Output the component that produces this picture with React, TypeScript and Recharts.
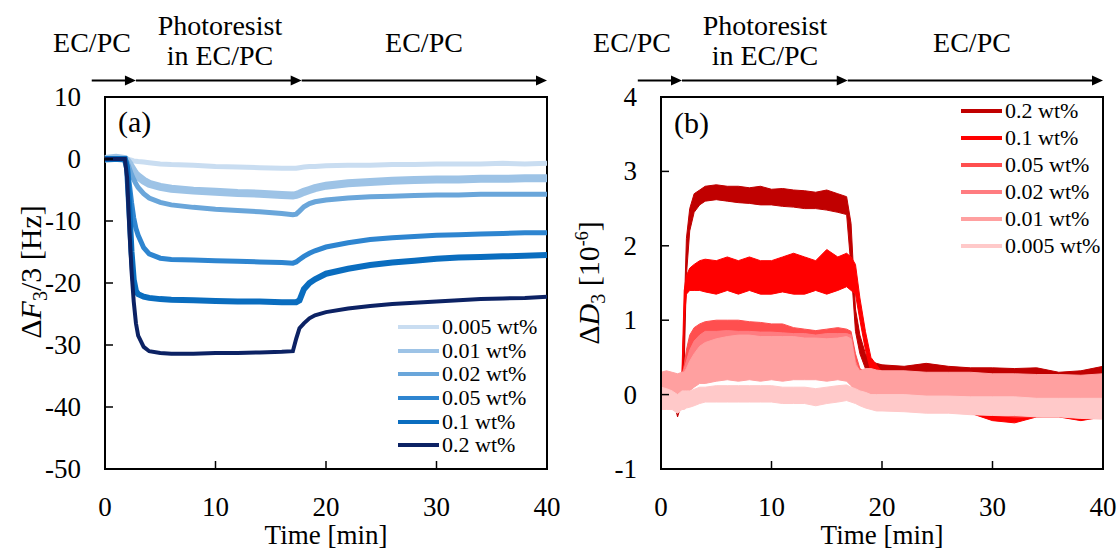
import React from "react";
import {
  ComposedChart,
  Line,
  Area,
  XAxis,
  YAxis,
  ReferenceLine,
  ReferenceArea,
  Legend,
} from "recharts";

const FONT = '"Liberation Serif", "Times New Roman", serif';

// ---------- (a) frequency shift, Hz ----------
const timeF = [0, 1, 1.8, 2.0, 2.2, 2.4, 2.6, 2.8, 3.0, 3.5, 4, 5, 6, 8, 10, 12, 14, 16, 17, 17.3, 17.6, 18, 18.5, 19, 20, 22, 24, 26, 28, 30, 32, 34, 36, 38, 40];
const f0005 = [0, 0.1, 0, 0, -0.1, -0.2, -0.3, -0.35, -0.4, -0.5, -0.6, -0.8, -0.9, -1.0, -1.2, -1.3, -1.4, -1.5, -1.5, -1.5, -1.4, -1.3, -1.2, -1.2, -1.1, -1.0, -1.0, -0.9, -0.9, -0.8, -0.8, -0.8, -0.7, -0.8, -0.7];
const f001 = [0, 0.2, 0, -0.3, -0.8, -1.4, -2.0, -2.5, -2.8, -3.5, -4.0, -4.5, -4.8, -5.1, -5.3, -5.5, -5.6, -5.8, -5.9, -5.8, -5.6, -5.3, -5.0, -4.7, -4.3, -3.9, -3.7, -3.5, -3.4, -3.3, -3.3, -3.2, -3.2, -3.1, -3.1];
const f002 = [0, 0, 0, -0.5, -1.5, -2.5, -3.3, -4.0, -4.6, -5.6, -6.3, -7.0, -7.4, -7.8, -8.1, -8.3, -8.5, -8.8, -9.0, -8.9, -8.4, -7.7, -7.2, -6.9, -6.6, -6.3, -6.1, -6.0, -5.9, -5.8, -5.8, -5.7, -5.7, -5.7, -5.7];
const f005 = [0, 0, 0, -1.0, -4, -7, -9.5, -11.2, -12.3, -14.3, -15.3, -16.0, -16.2, -16.3, -16.4, -16.5, -16.6, -16.7, -16.8, -16.6, -16.2, -15.7, -15.2, -14.8, -14.2, -13.5, -13.0, -12.7, -12.5, -12.3, -12.2, -12.1, -12.0, -11.9, -11.9];
const f01 = [0, 0, 0, -1.5, -8, -15, -19.5, -21.3, -21.8, -22.2, -22.4, -22.6, -22.7, -22.8, -22.9, -23.0, -23.0, -23.1, -23.1, -23.1, -22.8, -21.0, -20.0, -19.4, -18.5, -17.7, -17.1, -16.7, -16.4, -16.1, -15.9, -15.8, -15.7, -15.6, -15.5];
const f02 = [0, 0, 0, -3, -11, -18, -23, -26.5, -28.5, -30.3, -31.0, -31.3, -31.4, -31.4, -31.3, -31.3, -31.2, -31.1, -31.0, -29.0, -27.3, -26.5, -25.7, -25.2, -24.7, -24.1, -23.7, -23.4, -23.2, -23.0, -22.8, -22.6, -22.5, -22.4, -22.2];

const seriesF = [
  { key: "f0005", name: "0.005 wt%", values: f0005, color: "#c9ddf1", width: 5 },
  { key: "f001", name: "0.01 wt%", values: f001, color: "#9dc3e6", width: 8 },
  { key: "f002", name: "0.02 wt%", values: f002, color: "#6aa6da", width: 5 },
  { key: "f005", name: "0.05 wt%", values: f005, color: "#2e85d0", width: 5 },
  { key: "f01", name: "0.1 wt%", values: f01, color: "#0a6dbf", width: 6 },
  { key: "f02", name: "0.2 wt%", values: f02, color: "#0c2264", width: 4 },
];

// ---------- (b) dissipation shift, 1e-6 (noise envelopes low / high) ----------
const timeD = [0, 0.5, 1, 1.5, 1.9, 2.1, 2.3, 2.6, 3, 3.5, 4, 5, 6, 7, 8, 9, 10, 11, 12, 13, 14, 15, 16, 16.8, 17.2, 17.6, 18, 18.5, 19, 19.5, 20, 22, 24, 26, 28, 30, 32, 34, 36, 38, 40];
const d02Lo = [0.0, 0.05, 0.0, -0.3, -0.1, 0.4, 1.6, 2.2, 2.45, 2.55, 2.6, 2.62, 2.6, 2.58, 2.57, 2.55, 2.55, 2.53, 2.52, 2.5, 2.5, 2.48, 2.45, 2.42, 1.7, 0.85, 0.55, 0.35, 0.25, 0.22, 0.2, 0.2, 0.2, 0.18, 0.18, 0.15, 0.15, 0.15, 0.12, 0.12, 0.15];
const d02Hi = [0.2, 0.25, 0.2, 0.15, 0.2, 1.1, 2.1, 2.5, 2.7, 2.75, 2.8, 2.82, 2.8, 2.8, 2.78, 2.8, 2.76, 2.77, 2.75, 2.74, 2.72, 2.75, 2.7, 2.66, 2.3, 1.15, 0.8, 0.55, 0.45, 0.42, 0.4, 0.38, 0.42, 0.38, 0.36, 0.36, 0.35, 0.36, 0.3, 0.32, 0.38];
const d01Lo = [-0.15, -0.1, -0.15, -0.2, 0.0, 1.0, 1.35, 1.4, 1.4, 1.4, 1.38, 1.35, 1.4, 1.35, 1.4, 1.35, 1.35, 1.38, 1.35, 1.35, 1.4, 1.35, 1.4, 1.45, 1.4, 1.35, 1.0, 0.6, 0.3, 0.15, 0.0, -0.1, -0.15, -0.2, -0.25, -0.35, -0.38, -0.3, -0.3, -0.35, -0.3];
const d01Hi = [0.15, 0.2, 0.15, 0.1, 0.3, 1.4, 1.6, 1.7, 1.75, 1.8, 1.82, 1.8, 1.85, 1.8, 1.85, 1.8, 1.8, 1.85, 1.9, 1.85, 1.8, 1.95, 1.85, 1.9, 1.85, 1.75, 1.3, 0.85, 0.5, 0.4, 0.3, 0.3, 0.25, 0.25, 0.2, 0.15, 0.15, 0.15, 0.1, 0.1, 0.15];
const d005Lo = [-0.15, -0.1, -0.1, -0.15, -0.1, 0.1, 0.3, 0.5, 0.6, 0.65, 0.7, 0.7, 0.72, 0.7, 0.7, 0.7, 0.68, 0.65, 0.65, 0.62, 0.62, 0.6, 0.6, 0.6, 0.55, 0.3, 0.05, -0.1, -0.15, -0.2, -0.2, -0.2, -0.22, -0.22, -0.25, -0.28, -0.3, -0.3, -0.28, -0.3, -0.3];
const d005Hi = [0.25, 0.25, 0.25, 0.2, 0.25, 0.4, 0.6, 0.8, 0.9, 0.95, 0.98, 1.0, 1.0, 1.0, 0.98, 0.97, 0.95, 0.95, 0.9, 0.88, 0.86, 0.88, 0.9, 0.88, 0.85, 0.55, 0.35, 0.3, 0.3, 0.28, 0.28, 0.28, 0.25, 0.25, 0.25, 0.22, 0.2, 0.2, 0.2, 0.18, 0.2];
const d002Lo = [-0.15, -0.15, -0.12, -0.15, -0.15, 0.0, 0.15, 0.3, 0.4, 0.45, 0.45, 0.45, 0.47, 0.45, 0.45, 0.45, 0.45, 0.43, 0.42, 0.42, 0.42, 0.42, 0.42, 0.42, 0.4, 0.1, -0.1, -0.15, -0.18, -0.2, -0.2, -0.2, -0.2, -0.22, -0.22, -0.25, -0.25, -0.25, -0.25, -0.25, -0.25];
const d002Hi = [0.28, 0.28, 0.28, 0.25, 0.28, 0.35, 0.45, 0.6, 0.72, 0.8, 0.85, 0.85, 0.86, 0.85, 0.85, 0.84, 0.84, 0.83, 0.82, 0.82, 0.8, 0.82, 0.82, 0.82, 0.8, 0.45, 0.3, 0.28, 0.28, 0.28, 0.28, 0.27, 0.26, 0.25, 0.25, 0.24, 0.24, 0.22, 0.22, 0.22, 0.22];
const d001Lo = [-0.12, -0.1, -0.1, -0.12, -0.1, -0.05, 0.0, 0.05, 0.1, 0.15, 0.15, 0.18, 0.2, 0.18, 0.2, 0.18, 0.2, 0.18, 0.2, 0.2, 0.2, 0.18, 0.2, 0.18, 0.12, 0.05, -0.05, -0.1, -0.12, -0.15, -0.15, -0.15, -0.18, -0.18, -0.2, -0.2, -0.22, -0.22, -0.22, -0.22, -0.22];
const d001Hi = [0.3, 0.32, 0.3, 0.28, 0.3, 0.3, 0.35, 0.45, 0.55, 0.65, 0.7, 0.75, 0.78, 0.8, 0.8, 0.78, 0.78, 0.78, 0.78, 0.76, 0.76, 0.75, 0.76, 0.78, 0.75, 0.4, 0.32, 0.35, 0.35, 0.33, 0.32, 0.32, 0.3, 0.3, 0.3, 0.28, 0.28, 0.27, 0.27, 0.26, 0.28];
const d0005Lo = [-0.2, -0.2, -0.2, -0.25, -0.2, -0.2, -0.18, -0.17, -0.15, -0.12, -0.1, -0.1, -0.1, -0.1, -0.1, -0.1, -0.1, -0.12, -0.12, -0.12, -0.15, -0.12, -0.1, -0.08, -0.1, -0.12, -0.15, -0.18, -0.2, -0.22, -0.22, -0.23, -0.25, -0.25, -0.27, -0.28, -0.28, -0.3, -0.3, -0.32, -0.33];
const d0005Hi = [0.1, 0.08, 0.05, 0.0, 0.05, 0.05, 0.05, 0.05, 0.07, 0.1, 0.1, 0.12, 0.12, 0.12, 0.12, 0.12, 0.12, 0.1, 0.1, 0.1, 0.08, 0.1, 0.12, 0.13, 0.1, 0.08, 0.05, 0.03, 0.0, 0.0, 0.0, 0.0, -0.02, -0.02, -0.03, -0.03, -0.03, -0.05, -0.05, -0.05, -0.05];

const seriesD = [
  { key: "d02", name: "0.2 wt%", lo: d02Lo, hi: d02Hi, color: "#c00000" },
  { key: "d01", name: "0.1 wt%", lo: d01Lo, hi: d01Hi, color: "#ff0000" },
  { key: "d005", name: "0.05 wt%", lo: d005Lo, hi: d005Hi, color: "#ff4f4f" },
  { key: "d002", name: "0.02 wt%", lo: d002Lo, hi: d002Hi, color: "#ff7c80" },
  { key: "d001", name: "0.01 wt%", lo: d001Lo, hi: d001Hi, color: "#ffa0a0" },
  { key: "d0005", name: "0.005 wt%", lo: d0005Lo, hi: d0005Hi, color: "#ffc9c9" },
];

const timeTicks = [0, 10, 20, 30, 40];
const fTicks = [-50, -40, -30, -20, -10, 0, 10];
const dTicks = [-1, 0, 1, 2, 3, 4];

// step arrows above each panel: [from, to] in minutes
const stepsF = [[-1.2, 2.8], [2.8, 17.8], [17.8, 40]];
const stepsD = [[-2.1, 1.9], [1.9, 16.9], [16.9, 40]];

const dataF = timeF.map((t, i) => {
  const row: any = { t };
  seriesF.forEach((s) => (row[s.key] = s.values[i]));
  return row;
});

const dataD = timeD.map((t, i) => {
  const row: any = { t };
  seriesD.forEach((s) => (row[s.key] = [s.lo[i], s.hi[i]]));
  return row;
});

const Y_GAP = 24;
const X_GAP = 10;

function YTick(props: any) {
  const { x, y, payload } = props;
  const axisX = x + Y_GAP;
  return (
    <g>
      <line x1={axisX} x2={axisX + 8} y1={y} y2={y} stroke="#000" strokeWidth={1.5} />
      <text x={x} y={y + 9} textAnchor="end" fontFamily={FONT} fontSize={27} fill="#000">
        {payload.value}
      </text>
    </g>
  );
}

function XTick(props: any) {
  const { x, y, payload } = props;
  const axisY = y - X_GAP;
  const inner = payload.value !== 0 && payload.value !== 40;
  return (
    <g>
      {inner && <line x1={x} x2={x} y1={axisY} y2={axisY - 8} stroke="#000" strokeWidth={1.5} />}
      <text x={x} y={axisY + 47} textAnchor="middle" fontFamily={FONT} fontSize={27} fill="#000">
        {payload.value}
      </text>
    </g>
  );
}

function arrowShape(props: any) {
  const { x1, y1, x2, y2 } = props;
  const head = 11;
  return (
    <g>
      <line x1={x1} y1={y1} x2={x2 - head + 1} y2={y2} stroke="#000" strokeWidth={2} />
      <polygon points={`${x2},${y2} ${x2 - head},${y2 - 5} ${x2 - head},${y2 + 5}`} fill="#000" />
    </g>
  );
}

function legendBox(items: { name: string; color: string }[], rowH: number) {
  return () => (
    <div style={{ fontFamily: FONT, fontSize: 22, color: "#000" }}>
      {items.map((it) => (
        <div key={it.name} style={{ height: rowH, display: "flex", alignItems: "center", whiteSpace: "nowrap" }}>
          <span style={{ display: "inline-block", width: 41, height: 4, background: it.color, marginRight: 3 }} />
          {it.name}
        </div>
      ))}
    </div>
  );
}

export default function App() {
  return (
    <div style={{ position: "absolute", left: 0, top: 0, width: 1118, height: 551, background: "#fff", overflow: "hidden" }}>
      <div style={{ position: "absolute", left: 0, top: 0 }}>
        <ComposedChart width={560} height={551} data={dataF} margin={{ top: 97, right: 13, bottom: 42, left: 55 }}>
          <XAxis dataKey="t" type="number" domain={[0, 40]} ticks={timeTicks} axisLine={false} tickLine={false}
            tickSize={0} tickMargin={X_GAP} height={40} tick={<XTick />} interval={0} />
          <YAxis type="number" domain={[-50, 10]} ticks={fTicks} axisLine={false} tickLine={false}
            tickSize={0} tickMargin={Y_GAP} width={50} tick={<YTick />} interval={0} />
          {seriesF.map((s) => (
            <Line key={s.key} dataKey={s.key} name={s.name} stroke={s.color} strokeWidth={s.width}
              dot={false} type="linear" isAnimationActive={false} />
          ))}
          <ReferenceArea x1={0} x2={40} y1={-50} y2={10} fill="none" stroke="#000" strokeWidth={2} />
          {stepsF.map((s, i) => (
            <ReferenceLine key={i} segment={[{ x: s[0], y: 12.66 }, { x: s[1], y: 12.66 }]}
              ifOverflow="visible" shape={arrowShape} />
          ))}
          <Legend layout="vertical" align="center" verticalAlign="middle"
            wrapperStyle={{ left: 398, top: 315, width: "auto", height: "auto" }}
            content={legendBox(seriesF, 23.7)} />
        </ComposedChart>
      </div>
      <div style={{ position: "absolute", left: 560, top: 0 }}>
        <ComposedChart width={558} height={551} data={dataD} margin={{ top: 97, right: 15, bottom: 42, left: 51 }}>
          <XAxis dataKey="t" type="number" domain={[0, 40]} ticks={timeTicks} axisLine={false} tickLine={false}
            tickSize={0} tickMargin={X_GAP} height={40} tick={<XTick />} interval={0} />
          <YAxis type="number" domain={[-1, 4]} ticks={dTicks} axisLine={false} tickLine={false}
            tickSize={0} tickMargin={Y_GAP} width={50} tick={<YTick />} interval={0} />
          {seriesD.map((s) => (
            <Area key={s.key} dataKey={s.key} name={s.name} stroke={s.color} fill={s.color} fillOpacity={1}
              strokeWidth={1} type="linear" dot={false} activeDot={false} isAnimationActive={false} />
          ))}
          <ReferenceArea x1={0} x2={40} y1={-1} y2={4} fill="none" stroke="#000" strokeWidth={2} />
          {stepsD.map((s, i) => (
            <ReferenceLine key={i} segment={[{ x: s[0], y: 4.222 }, { x: s[1], y: 4.222 }]}
              ifOverflow="visible" shape={arrowShape} />
          ))}
          <Legend layout="vertical" align="center" verticalAlign="middle"
            wrapperStyle={{ left: 401, top: 97.5, width: "auto", height: "auto" }}
            content={legendBox(seriesD, 27)} />
        </ComposedChart>
      </div>
      <svg width={1118} height={551} style={{ position: "absolute", left: 0, top: 0, pointerEvents: "none" }}
        fontFamily={FONT} fill="#000">
        <g fontSize={28} textAnchor="middle">
          <text x={92} y={52}>EC/PC</text>
          <text x={220} y={35}>Photoresist</text>
          <text x={220} y={65}>in EC/PC</text>
          <text x={424} y={52}>EC/PC</text>
          <text x={632} y={52}>EC/PC</text>
          <text x={765} y={35}>Photoresist</text>
          <text x={765} y={65}>in EC/PC</text>
          <text x={972} y={52}>EC/PC</text>
        </g>
        <text x={118} y={132} fontSize={30}>(a)</text>
        <text x={674} y={133} fontSize={30}>(b)</text>
        <text x={326} y={544} fontSize={27} textAnchor="middle">Time [min]</text>
        <text x={882} y={544} fontSize={27} textAnchor="middle">Time [min]</text>
        <text x={41} y={272} fontSize={30} textAnchor="middle" transform="rotate(-90 41 272)">
          Δ<tspan fontStyle="italic">F</tspan>
          <tspan fontSize={20} dy={6}>3</tspan>
          <tspan dy={-6}>/3 [Hz]</tspan>
        </text>
        <text x={599} y={283} fontSize={30} textAnchor="middle" transform="rotate(-90 599 283)">
          Δ<tspan fontStyle="italic">D</tspan>
          <tspan fontSize={20} dy={6}>3</tspan>
          <tspan dy={-6}> [10</tspan>
          <tspan fontSize={18} dy={-11}>-6</tspan>
          <tspan dy={11}>]</tspan>
        </text>
      </svg>
    </div>
  );
}
